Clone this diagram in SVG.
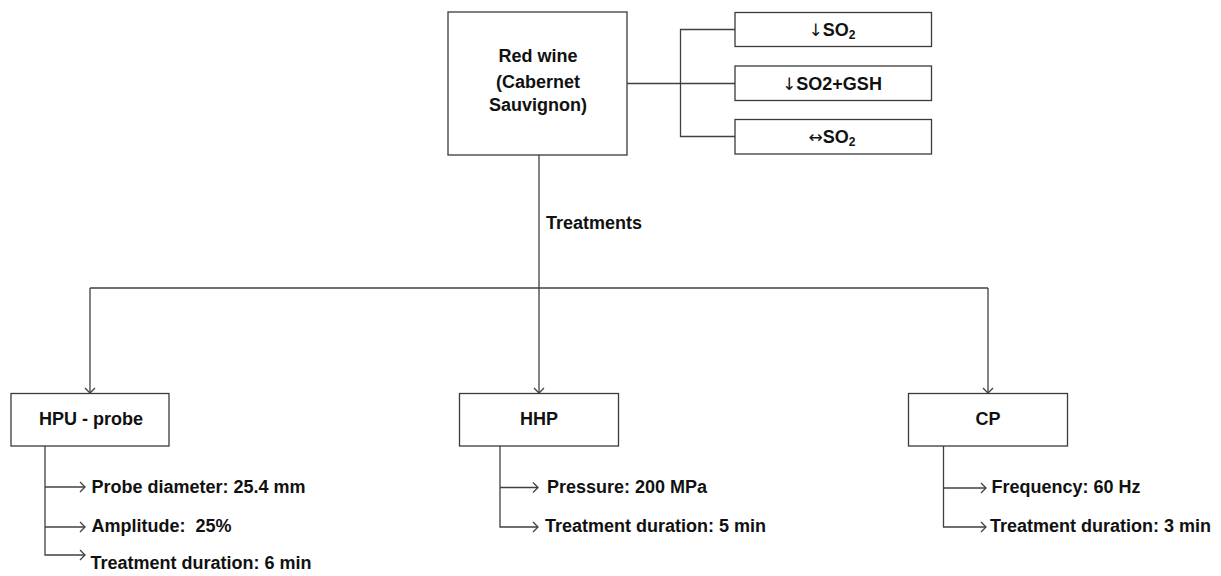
<svg xmlns="http://www.w3.org/2000/svg" width="1221" height="576" viewBox="0 0 1221 576">
<style>
.box{fill:#fff;stroke:#3a3a3a;stroke-width:1.3}
.ln{fill:none;stroke:#404040;stroke-width:1.3}
.t{font-family:"Liberation Sans",Arial,sans-serif;font-weight:bold;font-size:18px;fill:#111}
.c{text-anchor:middle}
.ar{font-family:"DejaVu Sans",sans-serif;font-weight:normal;font-size:17px}
.sub{font-size:12px}
</style>
<defs>
<marker id="ah" markerUnits="userSpaceOnUse" markerWidth="14" markerHeight="14" refX="0" refY="0" viewBox="-7 -7 14 14" orient="auto">
<path d="M-5,-5 L0,0 L-5,5" fill="none" stroke="#404040" stroke-width="1.3"/>
</marker>
</defs>
<rect width="1221" height="576" fill="#fff"/>
<g id="connectors">
<path class="ln" d="M627,83.5 H735"/>
<path class="ln" d="M735,29.5 H680.5 V136.5 H735"/>
<path class="ln" d="M539,155 V288"/>
<path class="ln" d="M90,288 H988"/>
<path class="ln" d="M90,288 V393" marker-end="url(#ah)"/>
<path class="ln" d="M539,288 V393" marker-end="url(#ah)"/>
<path class="ln" d="M988,288 V393" marker-end="url(#ah)"/>
<path class="ln" d="M45,446 V555 H85" marker-end="url(#ah)"/>
<path class="ln" d="M45,487 H85" marker-end="url(#ah)"/>
<path class="ln" d="M45,527 H85" marker-end="url(#ah)"/>
<path class="ln" d="M500,446 V527 H538" marker-end="url(#ah)"/>
<path class="ln" d="M500,487.5 H538" marker-end="url(#ah)"/>
<path class="ln" d="M943.5,446 V527 H986" marker-end="url(#ah)"/>
<path class="ln" d="M943.5,488 H986" marker-end="url(#ah)"/>
</g>
<g id="redwine">
<rect class="box" x="448" y="12" width="179" height="143"/>
<text class="t c" x="538" y="62">Red wine</text>
<text class="t c" x="538" y="88">(Cabernet</text>
<text class="t c" x="538" y="111">Sauvignon)</text>
</g>
<g id="so2-low">
<rect class="box" x="735" y="12.5" width="196.5" height="34"/>
<text class="t c" x="832" y="36"><tspan class="ar">↓</tspan>SO<tspan class="sub" dy="3">2</tspan></text>
</g>
<g id="so2-gsh">
<rect class="box" x="735" y="66" width="196.5" height="34.5"/>
<text class="t c" x="832" y="90"><tspan class="ar">↓</tspan>SO2+GSH</text>
</g>
<g id="so2-same">
<rect class="box" x="735" y="119.5" width="196.5" height="34.5"/>
<text class="t c" x="832" y="143"><tspan class="ar" font-size="14">↔</tspan>SO<tspan class="sub" dy="3">2</tspan></text>
</g>
<g id="treatments-label">
<text class="t" x="546" y="229">Treatments</text>
</g>
<g id="hpu">
<rect class="box" x="11" y="393.5" width="158" height="52.5"/>
<text class="t c" x="91" y="425">HPU - probe</text>
</g>
<g id="hhp">
<rect class="box" x="459.5" y="393.5" width="159" height="52.5"/>
<text class="t c" x="539" y="425">HHP</text>
</g>
<g id="cp">
<rect class="box" x="908.5" y="393.5" width="159" height="52.5"/>
<text class="t c" x="988" y="425">CP</text>
</g>
<g id="hpu-params">
<text class="t" x="91.5" y="493">Probe diameter: 25.4 mm</text>
<text class="t" x="91.5" y="532" xml:space="preserve">Amplitude:  25%</text>
<text class="t" x="90.5" y="569">Treatment duration: 6 min</text>
</g>
<g id="hhp-params">
<text class="t" x="547" y="493">Pressure: 200 MPa</text>
<text class="t" x="545" y="532">Treatment duration: 5 min</text>
</g>
<g id="cp-params">
<text class="t" x="991.5" y="493">Frequency: 60 Hz</text>
<text class="t" x="990" y="532">Treatment duration: 3 min</text>
</g>
</svg>
